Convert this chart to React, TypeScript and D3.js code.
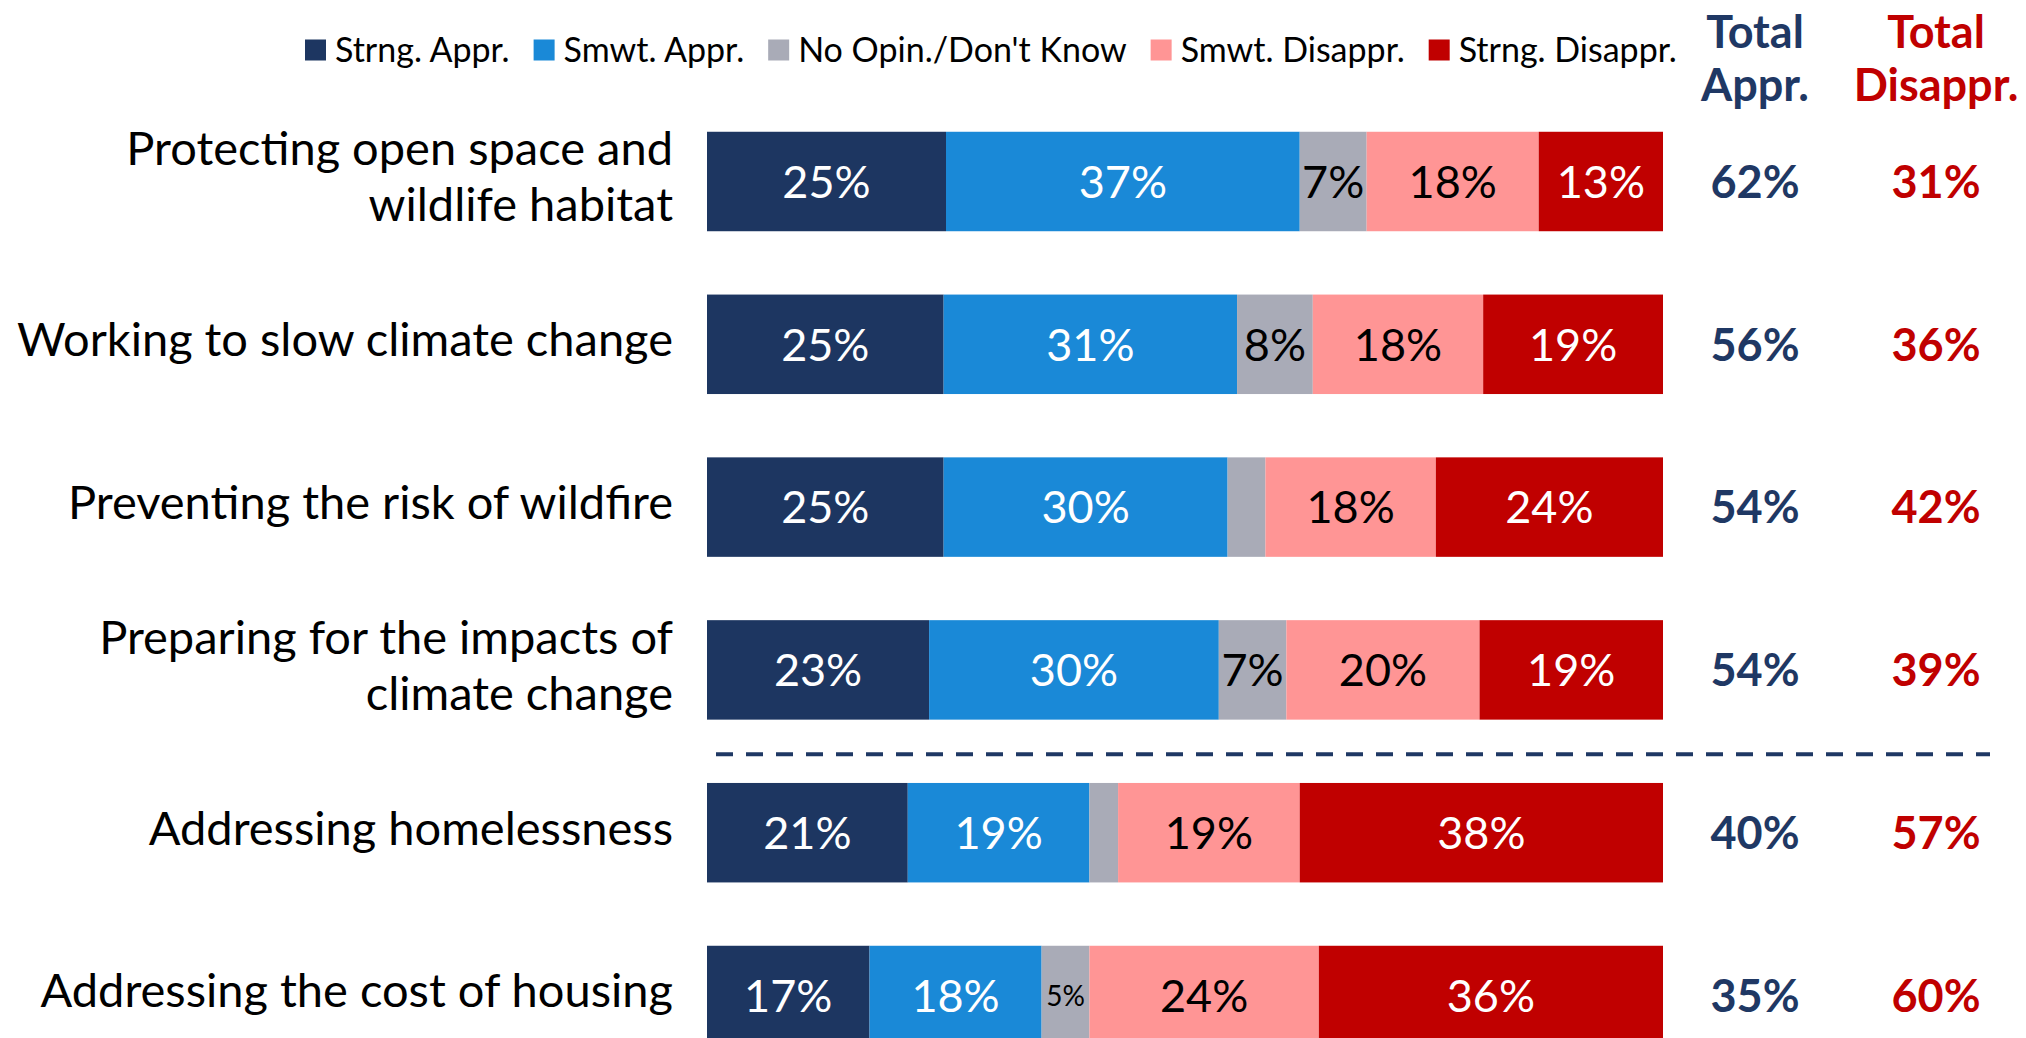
import React, { useEffect, useRef } from "react";
import * as d3 from "d3";

const categories = [
  "Protecting open space and\nwildlife habitat",
  "Working to slow climate change",
  "Preventing the risk of wildfire",
  "Preparing for the impacts of\nclimate change",
  "Addressing homelessness",
  "Addressing the cost of housing",
];
const seriesNames = ["Strng. Appr.", "Smwt. Appr.", "No Opin./Don't Know", "Smwt. Disappr.", "Strng. Disappr."];
const strongAppr = [25, 25, 25, 23, 21, 17];
const smwtAppr = [37, 31, 30, 30, 19, 18];
const noOpinion = [7, 8, 4, 7, 3, 5];
const smwtDisappr = [18, 18, 18, 20, 19, 24];
const strongDisappr = [13, 19, 24, 19, 38, 36];
const totalAppr = [62, 56, 54, 54, 40, 35];
const totalDisappr = [31, 36, 42, 39, 57, 60];

const colors = ["#1D3661", "#1A89D7", "#A9ABB7", "#FF9595", "#C00000"];
const textColors = ["#FFFFFF", "#FFFFFF", "#000000", "#000000", "#FFFFFF"];
const NAVY = "#1F3864";
const RED = "#C00000";
const FONT = "Lato, 'Open Sans', sans-serif";

const W = 2026;
const H = 1038;

export default function App() {
  const ref = useRef<SVGSVGElement>(null);

  useEffect(() => {
    const svg = d3.select(ref.current);
    svg.selectAll("*").remove();

    const keys = ["s0", "s1", "s2", "s3", "s4"];
    const rows = categories.map((c, i) => ({
      cat: c,
      s0: strongAppr[i],
      s1: smwtAppr[i],
      s2: noOpinion[i],
      s3: smwtDisappr[i],
      s4: strongDisappr[i],
    }));
    const stack = d3.stack<any>().keys(keys).offset(d3.stackOffsetExpand);
    const stacked = stack(rows);

    const x = d3.scaleLinear().domain([0, 1]).range([707, 1663]);
    const y = d3
      .scaleBand<string>()
      .domain(categories)
      .range([100.1, 100.1 + 6 * 162.8])
      .paddingInner(0.389)
      .paddingOuter(0.1945);

    // bars
    stacked.forEach((layer, k) => {
      const g = svg.append("g");
      layer.forEach((d, i) => {
        const cat = categories[i];
        const x0 = x(d[0]);
        const x1 = x(d[1]);
        const w = x1 - x0;
        g.append("rect")
          .attr("x", x0)
          .attr("y", y(cat)!)
          .attr("width", w)
          .attr("height", y.bandwidth())
          .attr("fill", colors[k]);
        const v = (rows[i] as any)[keys[k]];
        if (w >= 40) {
          const small = w < 62;
          g.append("text")
            .attr("x", x0 + w / 2)
            .attr("y", y(cat)! + y.bandwidth() / 2)
            .attr("dy", "0.36em")
            .attr("text-anchor", "middle")
            .attr("font-family", FONT)
            .attr("font-size", small ? 28 : 45)
            .attr("fill", textColors[k])
            .text(`${v}%`);
        }
      });
    });

    // category labels
    categories.forEach((c) => {
      const lines = c.split("\n");
      const cy = y(c)! + y.bandwidth() / 2 - 5;
      const lh = 56;
      lines.forEach((ln, j) => {
        svg
          .append("text")
          .attr("x", 673)
          .attr("y", cy + (j - (lines.length - 1) / 2) * lh)
          .attr("dy", "0.36em")
          .attr("text-anchor", "end")
          .attr("font-family", FONT)
          .attr("font-size", 47)
          .attr("fill", "#000")
          .text(ln);
      });
    });

    // totals
    const colA = 1755;
    const colD = 1936;
    categories.forEach((c, i) => {
      const cy = y(c)! + y.bandwidth() / 2;
      svg
        .append("text")
        .attr("x", colA)
        .attr("y", cy)
        .attr("dy", "0.36em")
        .attr("text-anchor", "middle")
        .attr("font-family", FONT)
        .attr("font-weight", "bold")
        .attr("font-size", 45)
        .attr("fill", NAVY)
        .text(`${totalAppr[i]}%`);
      svg
        .append("text")
        .attr("x", colD)
        .attr("y", cy)
        .attr("dy", "0.36em")
        .attr("text-anchor", "middle")
        .attr("font-family", FONT)
        .attr("font-weight", "bold")
        .attr("font-size", 45)
        .attr("fill", RED)
        .text(`${totalDisappr[i]}%`);
    });

    // headers
    const headers = [
      { x: colA, lines: ["Total", "Appr."], color: NAVY },
      { x: colD, lines: ["Total", "Disappr."], color: RED },
    ];
    headers.forEach((h) => {
      h.lines.forEach((ln, j) => {
        svg
          .append("text")
          .attr("x", h.x)
          .attr("y", 48 + j * 53)
          .attr("text-anchor", "middle")
          .attr("font-family", FONT)
          .attr("font-weight", "bold")
          .attr("font-size", 45)
          .attr("fill", h.color)
          .text(ln);
      });
    });

    // divider
    const yDiv = (y(categories[3])! + y.bandwidth() + y(categories[4])!) / 2 + 3;
    svg
      .append("line")
      .attr("x1", 716)
      .attr("x2", 1990)
      .attr("y1", yDiv)
      .attr("y2", yDiv)
      .attr("stroke", NAVY)
      .attr("stroke-width", 4)
      .attr("stroke-dasharray", "17 13");

    // legend
    let lx = 305;
    const ly = 50;
    seriesNames.forEach((name, k) => {
      svg
        .append("rect")
        .attr("x", lx)
        .attr("y", ly - 10.5)
        .attr("width", 21)
        .attr("height", 21)
        .attr("fill", colors[k]);
      const t = svg
        .append("text")
        .attr("x", lx + 30)
        .attr("y", ly)
        .attr("dy", "0.36em")
        .attr("font-family", FONT)
        .attr("font-size", 34)
        .attr("fill", "#000")
        .text(name);
      const tw = (t.node() as SVGTextElement).getComputedTextLength();
      lx = lx + 30 + tw + 24;
    });
  }, []);

  return (
    <svg
      ref={ref}
      width={W}
      height={H}
      style={{ position: "absolute", left: 0, top: 0, background: "#fff" }}
    />
  );
}
